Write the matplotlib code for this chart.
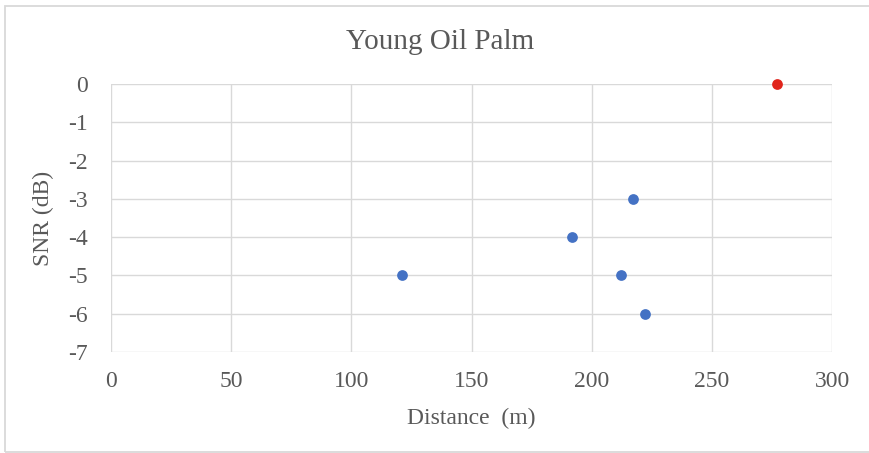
import matplotlib
matplotlib.use("Agg")
import matplotlib.pyplot as plt
from matplotlib.patches import Rectangle

# Measured samples
blue_distance = [121, 192, 212, 217, 222]
blue_snr = [-5, -4, -5, -3, -6]
red_distance = [277]
red_snr = [0]

x_ticks = [0, 50, 100, 150, 200, 250, 300]
y_ticks = [0, -1, -2, -3, -4, -5, -6, -7]

plt.rcParams['font.family'] = ['Liberation Serif', 'DejaVu Serif']
plt.rcParams['axes.unicode_minus'] = False
text_color = '#595959'
grid_color = '#D9D9D9'

fig = plt.figure(figsize=(8.69, 4.53), dpi=100)
fig.patch.set_facecolor('white')

# outer chart border (runs off the right edge)
fig.patches.append(Rectangle((5 / 869, 1.5 / 453), 1.2, 1 - 7.5 / 453,
                             transform=fig.transFigure, fill=False,
                             edgecolor=grid_color, linewidth=1.3))

ax = fig.add_axes([111 / 869, 1 - 352 / 453, (832 - 111) / 869, (352 - 84) / 453])
ax.set_xlim(0, 300)
ax.set_ylim(-7, 0)
ax.set_xticks(x_ticks)
ax.set_yticks(y_ticks)
ax.grid(True, color=grid_color, linewidth=1.0)
ax.set_axisbelow(True)
for s in ax.spines.values():
    s.set_visible(False)
ax.tick_params(length=0, labelsize=17, colors=text_color)
ax.tick_params(axis='y', pad=17)
ax.tick_params(axis='x', pad=14)

ax.scatter(blue_distance, blue_snr, s=60, color='#4472C4', zorder=3, clip_on=False, linewidths=0)
ax.scatter(red_distance, red_snr, s=60, color='#E0241B', zorder=3, clip_on=False, linewidths=0)

ax.set_xlabel('Distance  (m)', fontsize=17, color=text_color, labelpad=11)
ax.set_ylabel('SNR (dB)', fontsize=17, color=text_color, labelpad=10)
fig.text(440 / 869, 1 - 42 / 453, 'Young Oil Palm', fontsize=21,
         color=text_color, ha='center', va='center')

fig.savefig('out.png', dpi=100)
